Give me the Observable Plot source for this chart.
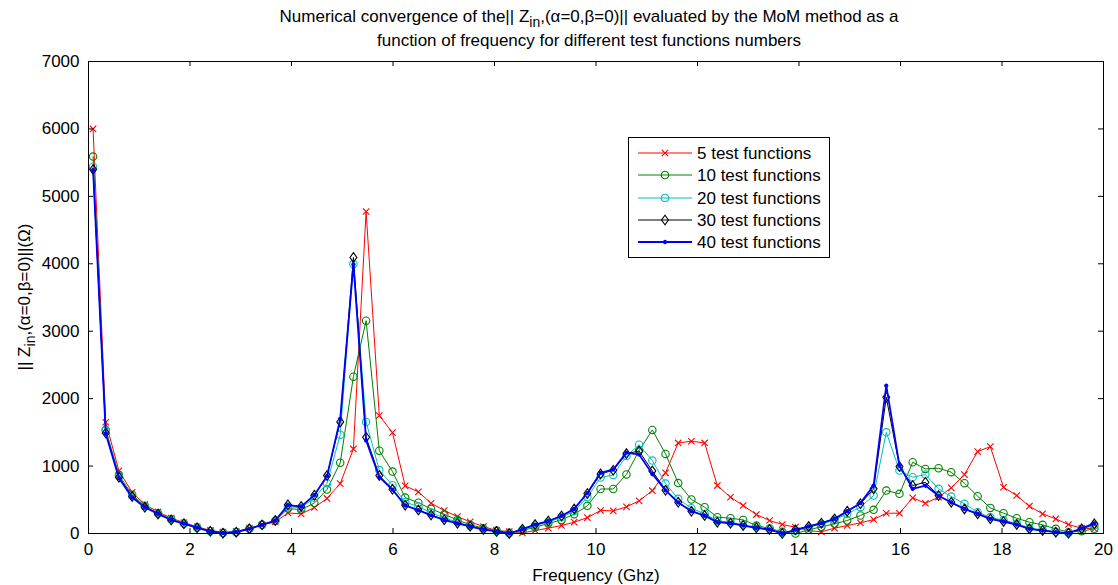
<!DOCTYPE html>
<html><head><meta charset="utf-8">
<script src="https://cdn.jsdelivr.net/npm/d3@7"></script>
<script src="https://cdn.jsdelivr.net/npm/@observablehq/plot@0.6"></script>
<style>
html,body{margin:0;padding:0;background:#fff;}
#chart{position:relative;width:1118px;height:585px;}
</style></head><body><div id="chart"></div>
<script>
// ---------- data ----------
const freq = [0.09,0.34,0.60,0.86,1.11,1.37,1.63,1.88,2.14,2.40,2.65,2.91,3.17,3.42,3.68,3.93,4.19,4.45,4.70,4.96,
5.22,5.47,5.73,5.99,6.24,6.50,6.75,7.01,7.27,7.52,7.78,8.04,8.29,8.55,8.80,9.06,9.32,9.57,9.83,10.09,
10.34,10.60,10.85,11.11,11.37,11.62,11.88,12.14,12.39,12.65,12.90,13.16,13.42,13.67,13.93,14.19,14.44,14.70,14.95,15.21,
15.47,15.72,15.98,16.24,16.49,16.75,17.00,17.26,17.52,17.77,18.03,18.29,18.54,18.80,19.06,19.31,19.57,19.82];

const tf5 = [6000,1650,930,610,430,320,230,160,100,45,20,30,80,128,170,305,291,385,520,740,
1254,4775,1748,1496,706,617,449,341,250,173,104,44,30,10,44,80,118,168,235,341,
336,395,484,635,900,1343,1368,1343,711,538,415,281,193,133,94,44,25,79,118,158,
207,301,301,528,449,538,677,874,1215,1289,686,563,405,291,217,133,79,69];

const tf10 = [5590,1540,870,575,410,300,215,150,90,38,10,22,72,130,185,370,353,452,652,1050,
2326,3156,1228,918,533,457,365,285,202,128,79,44,10,44,94,148,202,287,410,660,
660,876,1230,1536,1180,748,504,390,242,227,202,118,74,25,0,54,100,143,193,267,
351,637,588,1057,958,968,909,746,553,380,301,227,168,128,69,20,35,69];

const tf20 = [5440,1530,850,560,400,295,210,148,88,35,8,20,70,128,190,400,380,530,745,1465,
3995,1655,940,716,464,400,310,230,170,110,65,35,5,55,120,170,240,330,540,830,
869,1150,1316,1081,740,514,375,291,190,165,130,95,65,10,40,90,140,200,291,390,
563,1501,933,834,874,662,548,440,316,240,195,150,80,55,25,10,65,120];

const tf30 = [5400,1490,835,550,390,290,200,145,85,32,5,20,70,128,193,425,402,568,859,1655,
4094,1427,859,657,420,350,275,205,153,106,59,30,0,64,133,185,260,365,593,884,
938,1185,1222,928,642,464,331,267,168,153,118,84,59,0,54,104,153,217,331,440,
662,2020,993,711,760,563,464,365,291,217,178,133,69,44,20,5,69,143];

const tf40 = [5390,1480,820,535,390,290,200,145,85,32,5,20,70,128,193,420,398,570,850,1700,
3990,1380,835,650,415,345,270,200,150,105,58,30,0,64,133,185,260,365,600,900,
950,1200,1170,884,640,460,330,265,168,153,118,84,59,0,54,104,153,217,331,450,
711,2193,1007,662,711,560,460,365,291,217,178,133,69,44,20,5,75,150];

const seriesNames = ["5 test functions","10 test functions","20 test functions","30 test functions","40 test functions"];
const xTicks = [0,2,4,6,8,10,12,14,16,18,20];
const yTicks = [0,1000,2000,3000,4000,5000,6000,7000];

const titleLine1 = ["Numerical convergence of the|| Z", "in", ",(\u03b1=0,\u03b2=0)|| evaluated by the MoM method as a"];
const titleLine2 = "function of frequency for different test functions numbers";
const xLabel = "Frequency (Ghz)";
const yLabel = ["|| Z", "in", ",(\u03b1=0,\u03b2=0)||(\u03a9)"];

// ---------- layout ----------
const W = 1118, H = 585, mL = 88, mR = 15, mT = 61, mB = 52;
const innerW = W - mL - mR, innerH = H - mT - mB;
const FONT = "'Liberation Sans', Arial, Helvetica, sans-serif";
const FS = 17;

const diamond = {draw(ctx, size) {
  const h = Math.sqrt(size / Math.PI), w = h * 0.72;
  ctx.moveTo(0, -h); ctx.lineTo(w, 0); ctx.lineTo(0, h); ctx.lineTo(-w, 0); ctx.closePath();
}};

const styles = [
  {vals: tf5,  color: "#ff0000", symbol: "times",  r: 3,   fill: "none", lw: 1},
  {vals: tf10, color: "#008000", symbol: "circle", r: 3.7, fill: "none", lw: 1},
  {vals: tf20, color: "#00bfbf", symbol: "circle", r: 3.7, fill: "none", lw: 1},
  {vals: tf30, color: "#000000", symbol: diamond,  r: 4.8, fill: "none", lw: 1},
  {vals: tf40, color: "#0000ff", symbol: "circle", r: 1.6, fill: "#0000ff", lw: 1.8}
];

const rows = (ys) => freq.map((f, i) => ({f, v: ys[i]}));

const seriesMarks = styles.flatMap(s => [
  Plot.line(rows(s.vals), {x: "f", y: "v", stroke: s.color, strokeWidth: s.lw}),
  Plot.dot(rows(s.vals), {x: "f", y: "v", symbol: s.symbol, r: s.r, stroke: s.color, fill: s.fill, strokeWidth: 1.1})
]);

const plot = Plot.plot({
  width: W, height: H, marginLeft: mL, marginRight: mR, marginTop: mT, marginBottom: mB,
  style: {fontFamily: FONT, fontSize: FS + "px", background: "white", color: "black"},
  x: {domain: [0, 20]},
  y: {domain: [0, 7000]},
  marks: [
    Plot.axisX({ticks: xTicks, tickSize: 0, tickPadding: 9, label: null, tickFormat: d => String(d), fontSize: FS}),
    Plot.axisY({ticks: yTicks, tickSize: 0, tickPadding: 9, label: null, tickFormat: d => String(d), fontSize: FS}),
    ...seriesMarks,
    Plot.tickX(xTicks, {x: d => d, insetTop: innerH - 5, stroke: "black"}),
    Plot.tickX(xTicks, {x: d => d, insetBottom: innerH - 5, stroke: "black"}),
    Plot.tickY(yTicks, {y: d => d, insetRight: innerW - 5, stroke: "black"}),
    Plot.tickY(yTicks, {y: d => d, insetLeft: innerW - 5, stroke: "black"}),
    Plot.frame({stroke: "black", strokeWidth: 1})
  ]
});

document.getElementById("chart").appendChild(plot);
const svg = d3.select(plot);

// titles
const tcx = 589;
const t1 = svg.append("text").attr("x", tcx).attr("y", 22).attr("text-anchor", "middle")
  .style("font-family", FONT).style("font-size", FS + "px").attr("fill", "black");
t1.append("tspan").text(titleLine1[0]);
t1.append("tspan").attr("dy", 5).style("font-size", (FS - 3) + "px").text(titleLine1[1]);
t1.append("tspan").attr("dy", -5).text(titleLine1[2]);
svg.append("text").attr("x", tcx).attr("y", 46).attr("text-anchor", "middle")
  .style("font-family", FONT).style("font-size", FS + "px").attr("fill", "black").text(titleLine2);

// x label
svg.append("text").attr("x", 596).attr("y", 581).attr("text-anchor", "middle")
  .style("font-family", FONT).style("font-size", FS + "px").attr("fill", "black").text(xLabel);

// y label
const yl = svg.append("text").attr("transform", `translate(30,${mT + innerH / 2}) rotate(-90)`)
  .attr("text-anchor", "middle").style("font-family", FONT).style("font-size", FS + "px").attr("fill", "black");
yl.append("tspan").text(yLabel[0]);
yl.append("tspan").attr("dy", 5).style("font-size", (FS - 3) + "px").text(yLabel[1]);
yl.append("tspan").attr("dy", -5).text(yLabel[2]);

// legend
const lg = svg.append("g");
lg.append("rect").attr("x", 628.5).attr("y", 137.5).attr("width", 201).attr("height", 120)
  .attr("fill", "white").attr("stroke", "black").attr("stroke-width", 1);
const rowY = [153, 175, 198, 220, 242];
const symMap = {times: d3.symbolTimes, circle: d3.symbolCircle};
styles.forEach((s, i) => {
  const y = rowY[i];
  lg.append("line").attr("x1", 638).attr("x2", 692).attr("y1", y).attr("y2", y)
    .attr("stroke", s.color).attr("stroke-width", s.lw);
  const sym = typeof s.symbol === "string" ? symMap[s.symbol] : s.symbol;
  lg.append("path").attr("transform", `translate(665,${y})`)
    .attr("d", d3.symbol(sym, s.r * s.r * Math.PI)())
    .attr("fill", s.fill).attr("stroke", s.color).attr("stroke-width", 1.1);
  lg.append("text").attr("x", 697).attr("y", y).attr("dy", "0.35em").attr("text-anchor", "start")
    .style("font-family", FONT).style("font-size", FS + "px").attr("fill", "black").text(seriesNames[i]);
});
</script>
</body></html>
